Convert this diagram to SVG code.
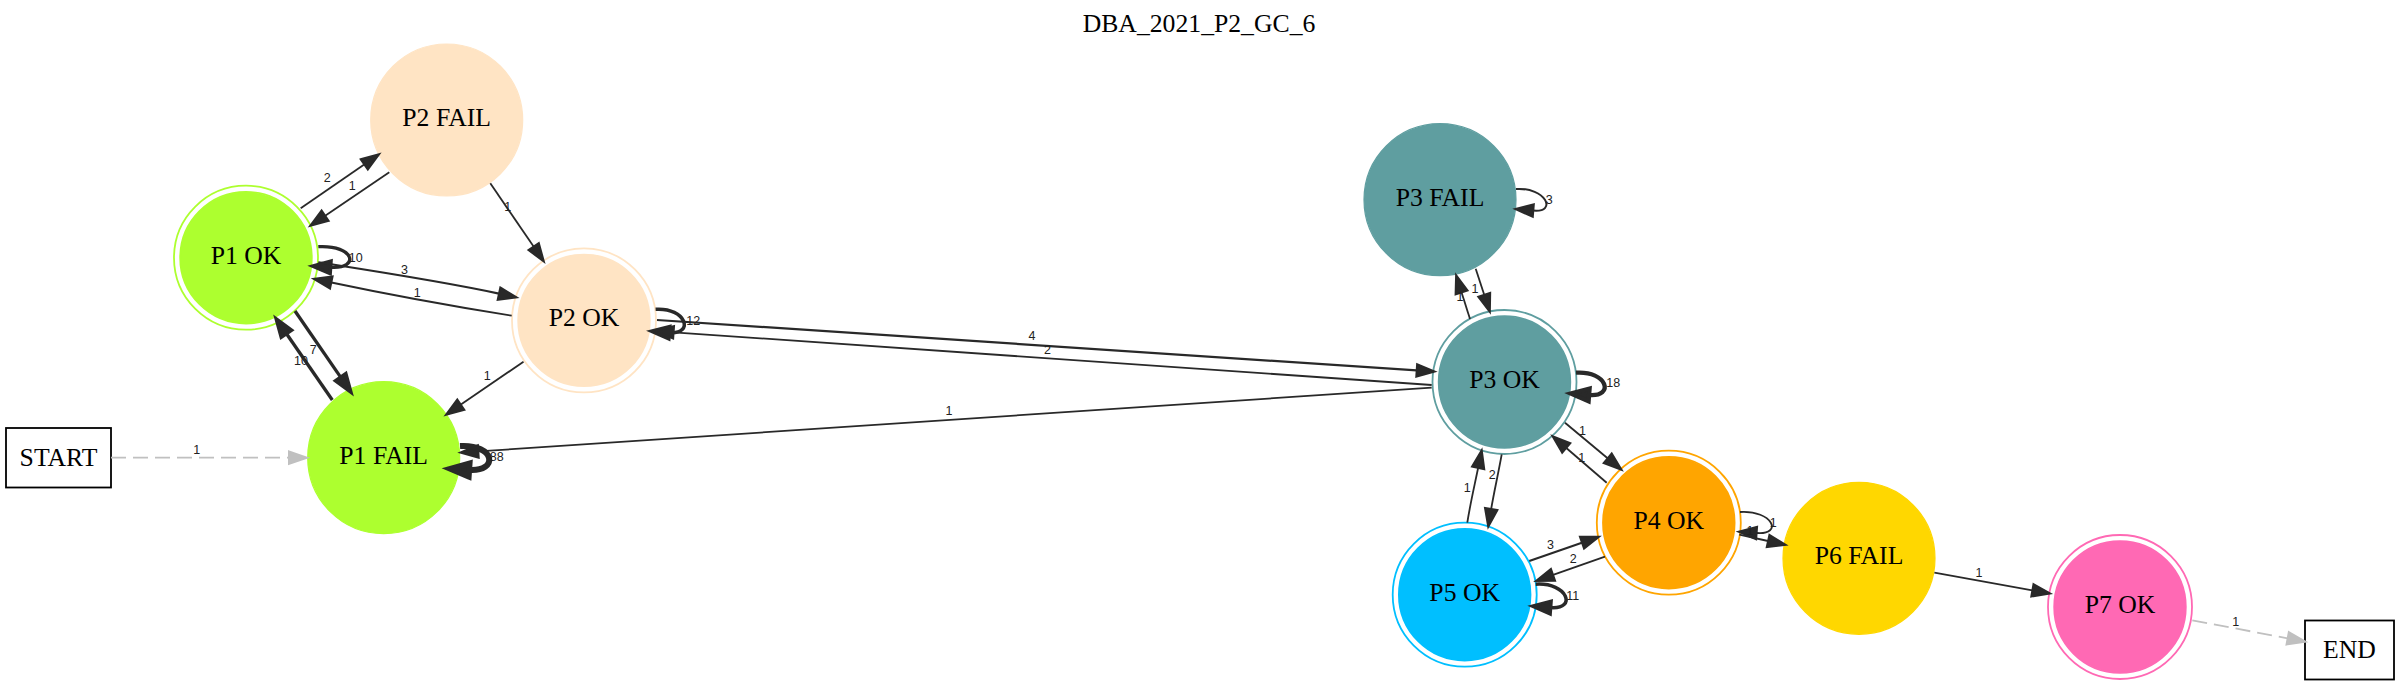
<svg xmlns="http://www.w3.org/2000/svg" width="2400" height="686" viewBox="0 0 2400 686">
<style>
.e{fill:none;stroke:#292929;stroke-width:1.8}
.g{fill:none;stroke:#c0c0c0;stroke-width:1.8;stroke-dasharray:15,7}
.lbl{font-family:"Liberation Sans",Arial,sans-serif;font-size:12.5px;fill:#222;text-anchor:middle}
.nl{font-family:"Liberation Serif","Times New Roman",serif;font-size:25.7px;fill:#000;text-anchor:middle}
.box{fill:#fff;stroke:#000;stroke-width:1.8}
</style>
<defs>
<marker id="ah1" markerUnits="userSpaceOnUse" markerWidth="40" markerHeight="40" viewBox="-10 -20 40 40" refX="0" refY="0" orient="auto" overflow="visible"><path d="M0,-6.4 L18.4,0 L0,6.4 Z" fill="#292929" stroke="#292929" stroke-width="1.8"/></marker>
<marker id="ah3" markerUnits="userSpaceOnUse" markerWidth="40" markerHeight="40" viewBox="-10 -20 40 40" refX="0" refY="0" orient="auto" overflow="visible"><path d="M0,-6.4 L18.4,0 L0,6.4 Z" fill="#292929" stroke="#292929" stroke-width="3.3"/></marker>
<marker id="ah4" markerUnits="userSpaceOnUse" markerWidth="40" markerHeight="40" viewBox="-10 -20 40 40" refX="0" refY="0" orient="auto" overflow="visible"><path d="M0,-6.4 L18.4,0 L0,6.4 Z" fill="#292929" stroke="#292929" stroke-width="4.3"/></marker>
<marker id="ah6" markerUnits="userSpaceOnUse" markerWidth="40" markerHeight="40" viewBox="-10 -20 40 40" refX="0" refY="0" orient="auto" overflow="visible"><path d="M0,-6.4 L18.4,0 L0,6.4 Z" fill="#292929" stroke="#292929" stroke-width="6"/></marker>
<marker id="ahg" markerUnits="userSpaceOnUse" markerWidth="40" markerHeight="40" viewBox="-10 -20 40 40" refX="0" refY="0" orient="auto" overflow="visible"><path d="M0,-6.4 L18.4,0 L0,6.4 Z" fill="#c0c0c0" stroke="#c0c0c0" stroke-width="1.8"/></marker>
</defs>
<rect width="2400" height="686" fill="#fff"/>
<text class="nl" x="1199" y="31.7">DBA_2021_P2_GC_6</text>

<g id="node-start"><rect class="box" x="6" y="428" width="105" height="59.5"/><text class="nl" x="58.5" y="466">START</text></g>
<g id="node-p1fail"><circle cx="383.7" cy="457.7" r="76" fill="#adff2f" stroke="#adff2f" stroke-width="1.2"/><text class="nl" x="383.7" y="464">P1 FAIL</text></g>
<g id="node-p1ok"><circle cx="246" cy="257.7" r="72" fill="none" stroke="#adff2f" stroke-width="1.8"/><circle cx="246" cy="257.7" r="65.8" fill="#adff2f" stroke="#adff2f" stroke-width="1.8"/><text class="nl" x="246" y="263.5">P1 OK</text></g>
<g id="node-p2fail"><circle cx="446.7" cy="120" r="76" fill="#ffe4c4" stroke="#ffe4c4" stroke-width="1.2"/><text class="nl" x="446.7" y="126">P2 FAIL</text></g>
<g id="node-p2ok"><circle cx="584" cy="320.4" r="72" fill="none" stroke="#ffe4c4" stroke-width="1.8"/><circle cx="584" cy="320.4" r="65.8" fill="#ffe4c4" stroke="#ffe4c4" stroke-width="1.8"/><text class="nl" x="584" y="326.3">P2 OK</text></g>
<g id="node-p3fail"><circle cx="1440" cy="199.7" r="76" fill="#5f9ea0" stroke="#5f9ea0" stroke-width="1.2"/><text class="nl" x="1440" y="205.7">P3 FAIL</text></g>
<g id="node-p3ok"><circle cx="1504.5" cy="382" r="72" fill="none" stroke="#5f9ea0" stroke-width="1.8"/><circle cx="1504.5" cy="382" r="65.8" fill="#5f9ea0" stroke="#5f9ea0" stroke-width="1.8"/><text class="nl" x="1504.5" y="388">P3 OK</text></g>
<g id="node-p4ok"><circle cx="1668.8" cy="522.7" r="72" fill="none" stroke="#ffa500" stroke-width="1.8"/><circle cx="1668.8" cy="522.7" r="65.8" fill="#ffa500" stroke="#ffa500" stroke-width="1.8"/><text class="nl" x="1668.8" y="528.7">P4 OK</text></g>
<g id="node-p5ok"><circle cx="1464.7" cy="594.7" r="72" fill="none" stroke="#00bfff" stroke-width="1.8"/><circle cx="1464.7" cy="594.7" r="65.8" fill="#00bfff" stroke="#00bfff" stroke-width="1.8"/><text class="nl" x="1464.7" y="600.7">P5 OK</text></g>
<g id="node-p6fail"><circle cx="1859" cy="558.3" r="76" fill="#ffd700" stroke="#ffd700" stroke-width="1.2"/><text class="nl" x="1859" y="564.3">P6 FAIL</text></g>
<g id="node-p7ok"><circle cx="2120" cy="607" r="72" fill="none" stroke="#ff69b4" stroke-width="1.8"/><circle cx="2120" cy="607" r="65.8" fill="#ff69b4" stroke="#ff69b4" stroke-width="1.8"/><text class="nl" x="2120" y="613">P7 OK</text></g>
<g id="node-end"><rect class="box" x="2305" y="620.5" width="89" height="59"/><text class="nl" x="2349.5" y="658">END</text></g>

<g id="connectors">
<path class="g" d="M111,457.7 L288.9,457.7" marker-end="url(#ahg)"/>
<path class="e" d="M300.7,208.3 L364.2,164.5" marker-end="url(#ah1)"/>
<path class="e" d="M389.3,172.3 L325.2,215.7" marker-end="url(#ah1)"/>
<path class="e" style="stroke-width:3.3" d="M318.3,246.7 C354.7,244.7 360.4,269.3 330.7,267.3" marker-end="url(#ah3)"/>
<path class="e" style="stroke-width:2.1" d="M318.3,262.3 C380,272 440,281 498.9,293.6" marker-end="url(#ah1)"/>
<path class="e" d="M511.7,315.7 C470,309 400,297 331.4,282.5" marker-end="url(#ah1)"/>
<path class="e" style="stroke-width:3.3" d="M295,311 L340.6,377.1" marker-end="url(#ah3)"/>
<path class="e" style="stroke-width:3.3" d="M332.3,400 L286.5,333.8" marker-end="url(#ah3)"/>
<path class="e" d="M490.3,183.3 L533.6,246.5" marker-end="url(#ah1)"/>
<path class="e" d="M523.5,361.7 L460.9,404.6" marker-end="url(#ah1)"/>
<path class="e" d="M1431.7,387.6 L478.4,451.4" marker-end="url(#ah1)"/>
<path class="e" style="stroke-width:6" d="M460,446 C495.9,444 498.5,472 469.1,470" marker-end="url(#ah6)"/>
<path class="e" style="stroke-width:3.5" d="M655.6,309.3 C686.4,307.3 694.6,334.7 669.4,332.7" marker-end="url(#ah3)"/>
<path class="e" style="stroke-width:2.2" d="M657,320 L1416.6,370.4" marker-end="url(#ah1)"/>
<path class="e" d="M1431.7,385 L673.7,332.3" marker-end="url(#ah1)"/>
<path class="e" d="M1470,318.9 L1461.6,292.5" marker-end="url(#ah1)"/>
<path class="e" d="M1475.7,268.8 L1484.2,294.7" marker-end="url(#ah1)"/>
<path class="e" style="stroke-width:2" d="M1516,189 C1545.7,187 1557.7,212.6 1533.4,210.6" marker-end="url(#ah1)"/>
<path class="e" style="stroke-width:4.3" d="M1576,372.7 C1607.5,370.7 1614.9,397 1589.1,395" marker-end="url(#ah4)"/>
<path class="e" d="M1565,422.8 L1607.6,458.2" marker-end="url(#ah1)"/>
<path class="e" d="M1606.7,482.7 L1566.3,448" marker-end="url(#ah1)"/>
<path class="e" d="M1501.7,454.3 C1498,475 1494,492 1491.2,508.9" marker-end="url(#ah1)"/>
<path class="e" d="M1467.3,522.7 C1470,505 1474,488 1478.1,468" marker-end="url(#ah1)"/>
<path class="e" style="stroke-width:2.1" d="M1529.3,561 L1581.9,542.7" marker-end="url(#ah1)"/>
<path class="e" d="M1605,556.7 L1553.1,574.9" marker-end="url(#ah1)"/>
<path class="e" style="stroke-width:3.5" d="M1535.7,584.2 C1568,582.2 1577.1,609.6 1550.7,607.6" marker-end="url(#ah3)"/>
<path class="e" d="M1740,512 C1772.8,510 1783.5,535 1756.7,533" marker-end="url(#ah1)"/>
<path class="e" d="M1739.3,534.7 L1768,541" marker-end="url(#ah1)"/>
<path class="e" d="M1934.4,572.7 L2032.3,590.3" marker-end="url(#ah1)"/>
<path class="g" d="M2192.3,620.3 L2287.6,638.3" marker-end="url(#ahg)"/>
</g>

<g id="edge-labels">
<text class="lbl" x="196.7" y="453.8">1</text>
<text class="lbl" x="327.3" y="182.2">2</text>
<text class="lbl" x="352.3" y="190.2">1</text>
<text class="lbl" x="355.7" y="261.5">10</text>
<text class="lbl" x="404.5" y="274">3</text>
<text class="lbl" x="417.3" y="296.5">1</text>
<text class="lbl" x="313.3" y="353.5">7</text>
<text class="lbl" x="301" y="364.5">10</text>
<text class="lbl" x="507.7" y="211.2">1</text>
<text class="lbl" x="487.3" y="379.5">1</text>
<text class="lbl" x="496.7" y="461.2">88</text>
<text class="lbl" x="693.3" y="324.5">12</text>
<text class="lbl" x="1032" y="339.8">4</text>
<text class="lbl" x="1047.4" y="353.8">2</text>
<text class="lbl" x="949" y="414.5">1</text>
<text class="lbl" x="1460" y="301">1</text>
<text class="lbl" x="1475" y="292.9">1</text>
<text class="lbl" x="1549.3" y="203.9">3</text>
<text class="lbl" x="1613.3" y="386.5">18</text>
<text class="lbl" x="1582.5" y="435.3">1</text>
<text class="lbl" x="1581.7" y="462">1</text>
<text class="lbl" x="1492.3" y="478.5">2</text>
<text class="lbl" x="1467.3" y="491.8">1</text>
<text class="lbl" x="1550.5" y="548.5">3</text>
<text class="lbl" x="1573.3" y="563">2</text>
<text class="lbl" x="1572.7" y="599.9">11</text>
<text class="lbl" x="1773.3" y="526.5">1</text>
<text class="lbl" x="1750" y="535">1</text>
<text class="lbl" x="1979" y="577.2">1</text>
<text class="lbl" x="2235.7" y="625.5">1</text>
</g>
</svg>
